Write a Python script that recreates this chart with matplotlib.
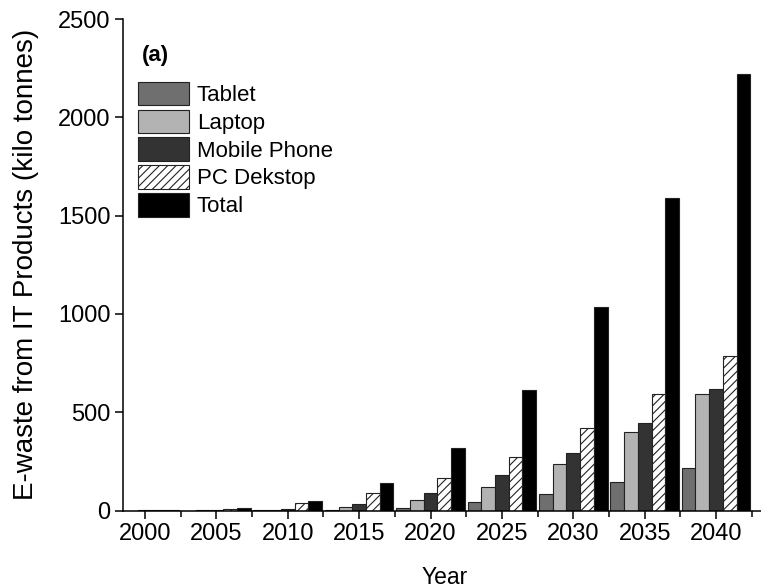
import matplotlib
matplotlib.use("Agg")
import matplotlib.pyplot as plt
import numpy as np
from matplotlib.ticker import MultipleLocator

plt.rcParams['font.family'] = ['Liberation Sans', 'DejaVu Sans']
plt.rcParams['hatch.linewidth'] = 0.8

years = [2000, 2005, 2010, 2015, 2020, 2025, 2030, 2035, 2040]
tablet = [0, 0, 0.5, 3, 14, 41, 83, 144, 217]
laptop = [0, 0.5, 2, 16, 51, 120, 239, 401, 593]
mobile = [0.5, 1, 9, 35, 91, 179, 291, 444, 618]
pc_desktop = [3, 10, 36, 88, 164, 273, 418, 594, 786]
total = [4, 12, 47, 142, 320, 613, 1033, 1587, 2220]

series = [
    ("Tablet", tablet, dict(color="#6f6f6f")),
    ("Laptop", laptop, dict(color="#b3b3b3")),
    ("Mobile Phone", mobile, dict(color="#333333")),
    ("PC Dekstop", pc_desktop, dict(color="white", hatch="////")),
    ("Total", total, dict(color="black")),
]

fig = plt.figure(figsize=(7.61, 5.88), dpi=100)
ax = fig.add_axes([123 / 761, (588 - 510.5) / 588, (767 - 123) / 761, (510.5 - 19) / 588])

x = np.array(years, dtype=float)
w = 0.96
for i, (name, vals, style) in enumerate(series):
    ax.bar(x + (i - 2) * w, vals, width=w, label=name,
           edgecolor="#222222", linewidth=0.8, **style)

ax.set_xlim(1998.46, 2043.57)
ax.set_ylim(0, 2500)
ax.xaxis.set_major_locator(MultipleLocator(5))
ax.xaxis.set_minor_locator(MultipleLocator(2.5))
ax.yaxis.set_major_locator(MultipleLocator(500))

for s in ("top", "right"):
    ax.spines[s].set_visible(False)
for s in ("left", "bottom"):
    ax.spines[s].set_linewidth(1.1)

ax.tick_params(axis="both", which="major", direction="out", length=6,
               width=1.1, labelsize=17, pad=3)
ax.tick_params(axis="x", which="minor", direction="out", length=4, width=1.1)
ax.tick_params(axis="y", which="minor", left=False)

ax.set_xlabel("Year", fontsize=16.5, labelpad=15)
ax.set_ylabel("E-waste from IT Products (kilo tonnes)", fontsize=20, labelpad=14)

ax.text(0.03, 0.925, "(a)", transform=ax.transAxes, fontsize=16,
        fontweight="bold", va="center", ha="left")

ax.legend(loc="upper left", bbox_to_anchor=(0.023, 0.872), frameon=False,
          fontsize=16, handlelength=2.3, handleheight=1.25,
          labelspacing=0.16, handletextpad=0.35, borderaxespad=0.0,
          borderpad=0.0)

fig.savefig("out.png", dpi=100)
